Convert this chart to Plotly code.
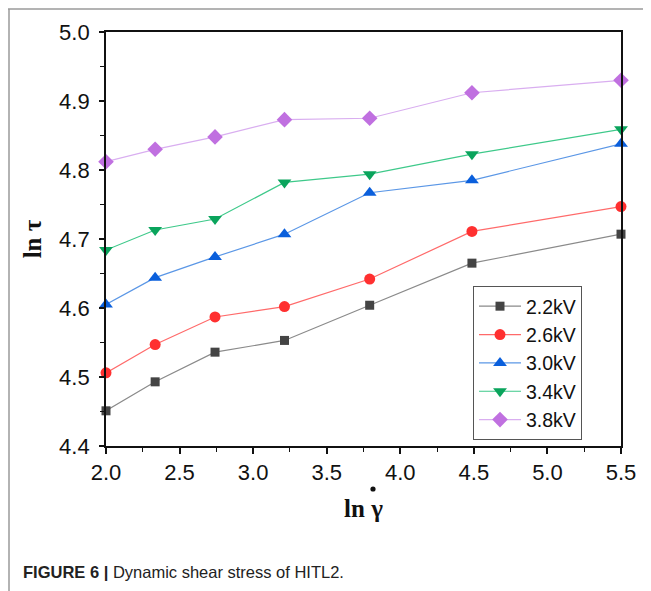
import plotly.graph_objects as go

ln_rate = [2.0, 2.334, 2.741, 3.213, 3.792, 4.487, 5.5]
series_names = ["2.2kV", "2.6kV", "3.0kV", "3.4kV", "3.8kV"]
v_22 = [4.451, 4.493, 4.536, 4.553, 4.604, 4.665, 4.707]
v_26 = [4.506, 4.547, 4.587, 4.602, 4.642, 4.711, 4.747]
v_30 = [4.605, 4.644, 4.674, 4.707, 4.767, 4.785, 4.838]
v_34 = [4.684, 4.713, 4.729, 4.782, 4.794, 4.823, 4.859]
v_38 = [4.812, 4.830, 4.848, 4.873, 4.875, 4.912, 4.930]
series_values = [v_22, v_26, v_30, v_34, v_38]

marker_colors = ["#444444", "#ff3030", "#0a5fdc", "#0aa45c", "#c070e0"]
line_colors = ["#8a8a8a", "#ff6a6a", "#5b97e6", "#3ec98a", "#d9aef0"]
symbols = ["square", "circle", "triangle-up", "triangle-down", "diamond"]
sizes = [9, 11, 12, 12, 12]

fig = go.Figure()
for name, vals, mc, lc, sym, sz in zip(series_names, series_values, marker_colors, line_colors, symbols, sizes):
    fig.add_trace(go.Scatter(
        x=ln_rate, y=vals, name=name, mode="lines+markers",
        line=dict(color=lc, width=1.2),
        marker=dict(symbol=sym, size=sz, color=mc, line=dict(width=0)),
        cliponaxis=False,
    ))

# page is offset by the 8px body margin; work in page pixels, convert below
OFF = 8
W, H = 651 - OFF, 591 - OFF
PL, PR, PT, PB = 106, 621, 32, 446  # plot area in page pixels
L, R, T, B = PL - OFF, W - (PR - OFF), PT - OFF, H - (PB - OFF)
pw, ph = W - L - R, H - T - B

def px(x):
    return (x - PL) / pw

def py(y):
    return (PB - y) / ph

axis_font = dict(family="Liberation Sans, Arial, sans-serif", size=22, color="#111111")

# dot over gamma (page pixels): centre and radius
DOT_X, DOT_Y, DOT_R = 373, 489, 2.6

fig.update_layout(
    width=W, height=H,
    margin=dict(l=L, r=R, t=T, b=B),
    paper_bgcolor="white", plot_bgcolor="white",
    showlegend=True,
    legend=dict(
        x=px(473), y=py(286), xanchor="left", yanchor="top",
        bordercolor="#555555", borderwidth=1, bgcolor="white",
        font=dict(family="Liberation Sans, Arial, sans-serif", size=19.5, color="#111111"),
        tracegroupgap=0, itemwidth=42,
    ),
    xaxis=dict(
        range=[2.0, 5.5], dtick=0.5, tick0=2.0, tickformat=".1f",
        showgrid=False, zeroline=False,
        showline=True, linecolor="#111111", linewidth=1.8, mirror=True,
        ticks="outside", ticklen=6, tickwidth=1.5, tickcolor="#111111",
        minor=dict(dtick=0.25, ticks="outside", ticklen=4, tickwidth=1.2, tickcolor="#111111"),
        tickfont=axis_font,
        title=dict(text="<b>ln γ</b>", font=dict(family="Liberation Serif, Times New Roman, serif", size=25, color="#111111"), standoff=15),
    ),
    yaxis=dict(
        range=[4.4, 5.0], dtick=0.1, tick0=4.4, tickformat=".1f",
        showgrid=False, zeroline=False,
        showline=True, linecolor="#111111", linewidth=1.8, mirror=True,
        ticks="outside", ticklen=5, tickwidth=1.5, tickcolor="#111111",
        minor=dict(dtick=0.05, ticks="outside", ticklen=4, tickwidth=1.2, tickcolor="#111111"),
        tickfont=axis_font, ticklabelstandoff=5,
        title=dict(text="<b>ln τ</b>", font=dict(family="Liberation Serif, Times New Roman, serif", size=25, color="#111111"), standoff=10),
    ),
    shapes=[
        dict(type="line", xref="paper", yref="paper", x0=px(OFF), x1=px(660), y0=py(OFF + 1), y1=py(OFF + 1),
             line=dict(color="#9a9a9a", width=1.5)),
        dict(type="line", xref="paper", yref="paper", x0=px(OFF + 1), x1=px(OFF + 1), y0=py(OFF + 1), y1=py(600),
             line=dict(color="#9a9a9a", width=1.5)),
        dict(type="circle", xref="paper", yref="paper",
             x0=px(DOT_X - DOT_R), x1=px(DOT_X + DOT_R), y0=py(DOT_Y + DOT_R), y1=py(DOT_Y - DOT_R),
             fillcolor="#111111", line=dict(width=0)),
    ],
    annotations=[
        dict(text="<b>FIGURE 6 |</b> Dynamic shear stress of HITL2.",
             xref="paper", yref="paper", x=px(21), y=py(572), xanchor="left", yanchor="middle",
             showarrow=False, font=dict(family="Liberation Sans, Arial, sans-serif", size=16.5, color="#222222")),
    ],
)

fig.write_html("out.html")
